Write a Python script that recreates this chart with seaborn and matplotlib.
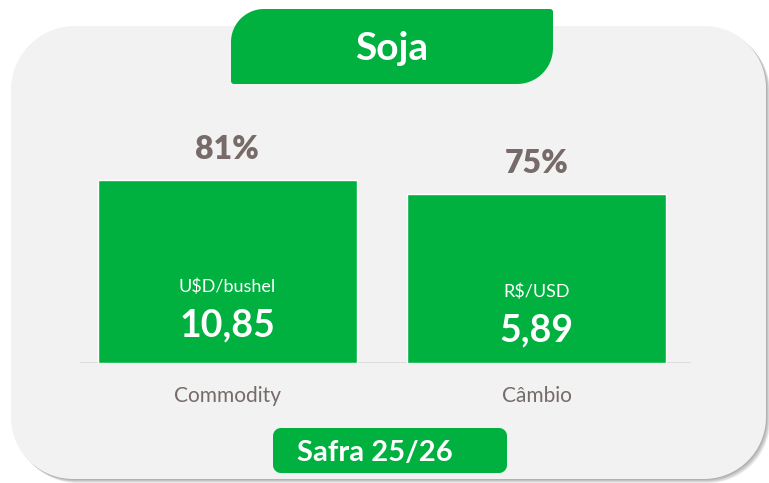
import numpy as np
import matplotlib.pyplot as plt
from matplotlib.patches import Polygon
import seaborn as sns

# ── Data ────────────────────────────────────────────────────────────────────
title = "Soja"
season = "Safra 25/26"
categories = ["Commodity", "Câmbio"]
shares = [81, 75]                     # % shown above each bar
units = ["U$D/bushel", "R$/USD"]
prices = ["10,85", "5,89"]

GREEN = "#00B140"
GRAY = "#766B68"
CARD = "#F2F2F2"

sns.set_theme(style="white")
plt.rcParams["font.family"] = ["Lato", "DejaVu Sans"]


def rounded_poly(x0, y0, x1, y1, r_tl, r_tr, r_br, r_bl, n=24):
    # rectangle in y-down pixel coords, each corner with its own radius
    pts = []
    for cx, cy, r, a0, a1 in [(x0 + r_tl, y0 + r_tl, r_tl, np.pi, np.pi / 2),
                              (x1 - r_tr, y0 + r_tr, r_tr, np.pi / 2, 0),
                              (x1 - r_br, y1 - r_br, r_br, 0, -np.pi / 2),
                              (x0 + r_bl, y1 - r_bl, r_bl, -np.pi / 2, -np.pi)]:
        t = np.linspace(a0, a1, n)
        pts.append(np.column_stack([cx + r * np.cos(t), cy - r * np.sin(t)]))
    return np.vstack(pts)


W, H = 769, 483
fig = plt.figure(figsize=(W / 100, H / 100), dpi=100)
fig.patch.set_facecolor("white")

# ── Background card, title tab, season badge ───────────────────────────────
bg = fig.add_axes([0, 0, 1, 1])
bg.set_xlim(0, W)
bg.set_ylim(H, 0)
bg.axis("off")

card = rounded_poly(11, 26, 766, 479, 64, 62, 62, 62)
for k in range(1, 6):
    bg.add_patch(Polygon(card + [k * 0.8, k * 0.8], closed=True,
                         fc="black", ec="none", alpha=0.07))
bg.add_patch(Polygon(card, closed=True, fc=CARD, ec="none"))

bg.add_patch(Polygon(rounded_poly(231, 9, 553, 84, 33, 3, 36, 3),
                     closed=True, fc=GREEN, ec="none"))
bg.text(392, 60, title, ha="center", va="baseline", color="white",
        fontsize=28, fontweight="bold")

bg.add_patch(Polygon(rounded_poly(273, 428, 507, 473, 8, 8, 8, 8),
                     closed=True, fc=GREEN, ec="none"))
bg.text(297, 461, season, ha="left", va="baseline", color="white",
        fontsize=21, fontweight="bold")

# ── Bars ────────────────────────────────────────────────────────────────────
ax = fig.add_axes([80 / W, 1 - 363 / H, 611 / W, 263 / H])
sns.barplot(x=categories, y=shares, color=GREEN, saturation=1, width=0.838,
            ax=ax, zorder=2)
ax.set_xlim(-0.477, 1.5)
ax.set_ylim(0, 116.4)
ax.axhline(0, color="#D9D9D9", lw=1.2, zorder=1)
ax.patch.set_alpha(0)
for s in ax.spines.values():
    s.set_visible(False)
ax.set_xticks([])
ax.set_yticks([])
ax.set_xlabel("")
ax.set_ylabel("")

for i, bar in enumerate(ax.patches):
    h = bar.get_height()
    x = bar.get_x() + bar.get_width() / 2
    ax.annotate(f"{shares[i]}%", (x, h), xytext=(0, 21),
                textcoords="offset pixels", ha="center", va="baseline",
                fontsize=23, fontweight="heavy", color=GRAY,
                annotation_clip=False)
    ax.text(x, 0.388 * h, units[i], ha="center", va="baseline",
            fontsize=13, color="white")
    ax.annotate(prices[i], (x, 0.388 * h), xytext=(0, -44),
                textcoords="offset pixels", ha="center", va="baseline",
                fontsize=27, fontweight="bold", color="white",
                annotation_clip=False)
    ax.annotate(categories[i], (x, 0), xytext=(0, -39),
                textcoords="offset pixels", ha="center", va="baseline",
                fontsize=15, color=GRAY, annotation_clip=False)

fig.savefig("out.png", dpi=100)
